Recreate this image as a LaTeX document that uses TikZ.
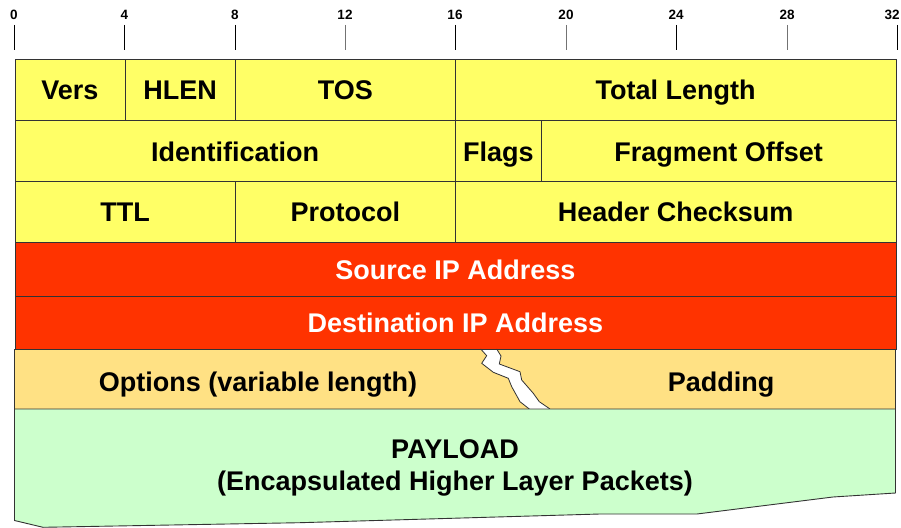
\documentclass[tikz,border=0pt]{standalone}
\usepackage{fontspec}
\setmainfont{Liberation Sans}
\definecolor{hdryellow}{HTML}{FFFF66}
\definecolor{hdrred}{HTML}{FF3300}
\definecolor{optorange}{HTML}{FFE184}
\definecolor{payloadgreen}{HTML}{CCFFCC}
\definecolor{rule}{HTML}{333333}
\tikzset{
  cell/.style={draw=rule, line width=0.9bp, anchor=north west, inner sep=0pt,
    font=\fontsize{27bp}{32bp}\selectfont\bfseries,
    text height=19.3bp, text depth=0pt},
  yellowcell/.style={cell, fill=hdryellow},
  redcell/.style={cell, fill=hdrred, text=white},
  label/.style={inner sep=0pt, font=\fontsize{27bp}{32bp}\selectfont\bfseries,
    text height=19.3bp, text depth=0pt},
  bitnum/.style={inner sep=0pt, font=\fontsize{13.5bp}{16bp}\selectfont\bfseries},
  tick/.style={line width=1bp, draw=black},
  lighttick/.style={line width=1bp, draw=black!55},
}
\begin{document}
\begin{tikzpicture}[x=1bp, y=-1bp]
\useasboundingbox (0,0) rectangle (901,528);

% bit ruler
\foreach \b/\x/\lx in {0/14/14, 4/124.5/124.5, 8/235/235, 16/455/455, 24/676/676, 32/897/892}{
  \node[bitnum] (n\b) at (\lx,15) {\b};
  \coordinate (t\b) at (\x,25);
  \coordinate (u\b) at (\x,50);
  \draw[tick] (t\b) -- (u\b);
}
\foreach \b/\x in {12/345, 20/566, 28/787}{
  \node[bitnum] (n\b) at (\x,15) {\b};
  \coordinate (t\b) at (\x,25);
  \coordinate (u\b) at (\x,50);
  \draw[lighttick] (t\b) -- (u\b);
}

% first word
\node[yellowcell, minimum width=110bp,   minimum height=61.5bp] (vers)  at (14.5,59) {Vers};
\node[yellowcell, minimum width=110.5bp, minimum height=61.5bp] (hlen)  at (124.5,59) {HLEN};
\node[yellowcell, minimum width=220bp,   minimum height=61.5bp] (tos)   at (235,59) {TOS};
\node[yellowcell, minimum width=440.5bp, minimum height=61.5bp] (tlen)  at (455,59) {Total Length};

% second word
\node[yellowcell, minimum width=440.5bp, minimum height=61bp] (ident) at (14.5,120.5) {Identification};
\node[yellowcell, minimum width=86bp,    minimum height=61bp] (flags) at (455,120.5) {Flags};
\node[yellowcell, minimum width=354.5bp, minimum height=61bp] (frag)  at (541,120.5) {Fragment Offset};

% third word
\node[yellowcell, minimum width=220.5bp, minimum height=60.5bp] (ttl)   at (14.5,181.5) {TTL};
\node[yellowcell, minimum width=220bp,   minimum height=60.5bp] (proto) at (235,181.5) {Protocol};
\node[yellowcell, minimum width=440.5bp, minimum height=60.5bp] (csum)  at (455,181.5) {Header Checksum};

% addresses
\node[redcell, minimum width=881bp, minimum height=54bp] (src) at (14.5,242) {Source IP Address};
\node[redcell, minimum width=881bp, minimum height=53bp] (dst) at (14.5,296) {Destination IP Address};

% options row with a torn gap
\fill[optorange] (14.5,349) rectangle (895.5,409);
\fill[white] (480.7,349) -- (486.7,355.7) -- (481.7,363.3) -- (493.3,372.3) -- (508.3,378.3)
  -- (511.7,386.7) -- (520,401.7) -- (529.3,409) -- (550,409) -- (539.3,401.7) -- (533.3,393.3)
  -- (521.7,380) -- (520,371.7) -- (499.3,364) -- (501,356) -- (496.7,349) -- cycle;
\draw[rule, line width=0.8bp] (480.7,349) -- (486.7,355.7) -- (481.7,363.3) -- (493.3,372.3) -- (508.3,378.3)
  -- (511.7,386.7) -- (520,401.7) -- (529.3,409);
\draw[rule, line width=0.8bp] (496.7,349) -- (501,356) -- (499.3,364) -- (520,371.7) -- (521.7,380)
  -- (533.3,393.3) -- (539.3,401.7) -- (550,409);
\draw[rule, line width=0.9bp] (14.5,349) rectangle (895.5,409);
\node[label] (opts) at (258,382) {Options (variable length)};
\node[label] (pad)  at (721,382) {Padding};

% payload with a ragged lower edge
\draw[rule, line width=0.9bp, fill=payloadgreen]
  (14.5,409) -- (14.5,520.5) -- (43,527.3) -- (300,522.7) -- (600,514) -- (697,514)
  -- (833,497) -- (895.5,493) -- (895.5,409) -- cycle;
\node[inner sep=0pt, align=center, font=\fontsize{27bp}{32bp}\selectfont\bfseries] (payload) at (455,468)
  {PAYLOAD\\(Encapsulated Higher Layer Packets)};
\end{tikzpicture}
\end{document}
